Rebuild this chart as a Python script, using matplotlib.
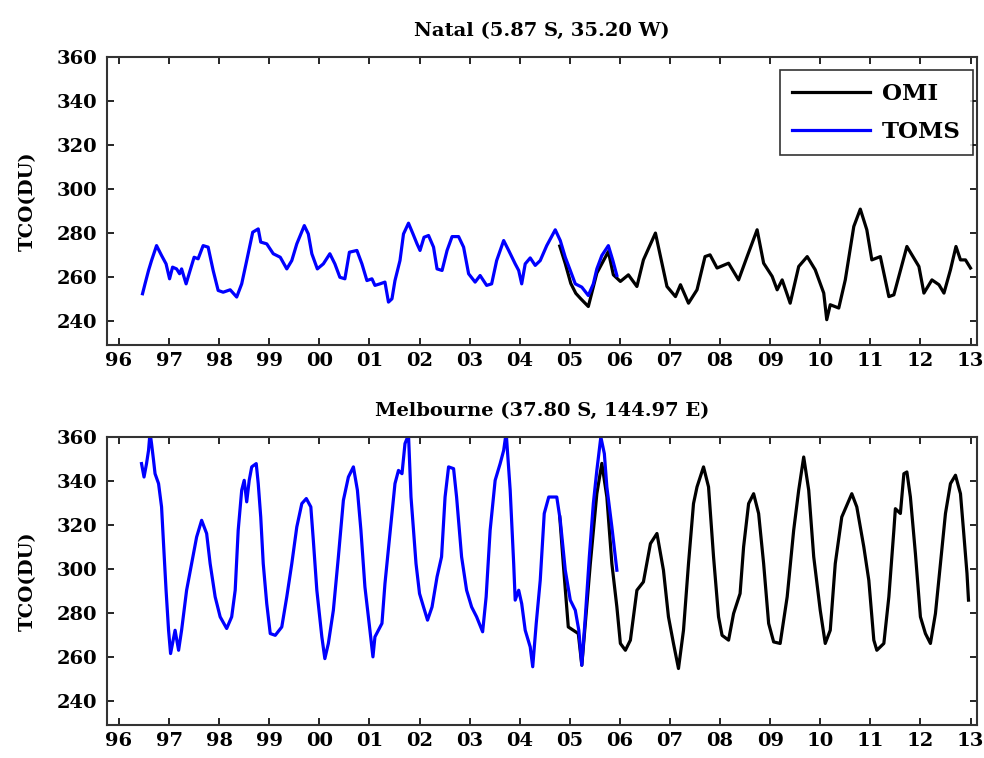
import numpy as np
import matplotlib.pyplot as plt

# ---- Natal: TOMS (blue) ----
natal_toms_t = [1996.47, 1996.52, 1996.59, 1996.65, 1996.75, 1996.85, 1996.94, 1997.01, 1997.07, 1997.15,
                1997.21, 1997.25, 1997.34, 1997.42, 1997.50, 1997.58, 1997.68, 1997.78, 1997.88, 1997.98,
                1998.08, 1998.22, 1998.35, 1998.45, 1998.55, 1998.67, 1998.78, 1998.83, 1998.95, 1999.08,
                1999.22, 1999.35, 1999.45, 1999.55, 1999.70, 1999.78, 1999.85, 1999.96, 2000.08, 2000.21,
                2000.31, 2000.41, 2000.51, 2000.60, 2000.75, 2000.85, 2000.95, 2001.05, 2001.11, 2001.21,
                2001.31, 2001.38, 2001.45, 2001.51, 2001.61, 2001.68, 2001.78, 2001.87, 2001.95, 2002.01,
                2002.09, 2002.18, 2002.28, 2002.35, 2002.45, 2002.55, 2002.65, 2002.78, 2002.88, 2002.98,
                2003.11, 2003.21, 2003.34, 2003.44, 2003.54, 2003.68, 2003.78, 2003.91, 2003.98, 2004.04,
                2004.11, 2004.21, 2004.31, 2004.41, 2004.54, 2004.71, 2004.81, 2004.91, 2005.01, 2005.11,
                2005.24, 2005.37, 2005.47, 2005.54, 2005.64, 2005.77, 2005.86, 2005.94]
natal_toms_v = [252.3, 256.8, 262.9, 267.4, 274.2, 269.7, 265.9, 259.1, 264.4, 263.6,
                261.4, 263.6, 256.8, 262.9, 268.9, 268.2, 274.2, 273.5, 262.9, 253.8,
                253.0, 254.1, 250.8, 256.8, 267.4, 280.3, 281.8, 275.8, 275.0, 270.5,
                268.9, 263.6, 267.4, 275.0, 283.3, 279.5, 270.5, 263.6, 265.9, 270.5,
                265.9, 259.8, 259.1, 271.2, 272.0, 265.9, 258.3, 259.1, 256.1, 256.8,
                257.6, 248.5, 250.0, 258.3, 267.4, 279.5, 284.4, 279.5, 275.0, 272.0,
                278.0, 278.8, 273.5, 263.6, 262.9, 272.0, 278.3, 278.3, 273.5, 261.4,
                257.6, 260.6, 256.1, 256.8, 267.4, 276.5, 272.0, 265.9, 262.9, 256.8,
                265.9, 268.6, 265.2, 267.4, 274.2, 281.4, 276.5, 268.9, 262.9, 256.8,
                255.3, 251.5, 256.8, 263.6, 269.7, 274.2, 267.4, 260.6]

# ---- Natal: OMI (black) ----
natal_omi_t = [2004.80, 2004.91, 2005.02, 2005.12, 2005.22, 2005.37, 2005.54, 2005.77, 2005.87, 2006.01,
               2006.17, 2006.34, 2006.47, 2006.71, 2006.94, 2007.11, 2007.21, 2007.37, 2007.54, 2007.70,
               2007.80, 2007.94, 2008.17, 2008.37, 2008.54, 2008.74, 2008.87, 2009.04, 2009.14, 2009.24,
               2009.40, 2009.57, 2009.74, 2009.90, 2010.07, 2010.13, 2010.20, 2010.37, 2010.50, 2010.67,
               2010.80, 2010.93, 2011.03, 2011.20, 2011.37, 2011.47, 2011.73, 2011.97, 2012.07, 2012.23,
               2012.37, 2012.47, 2012.60, 2012.71, 2012.80, 2012.90, 2013.00]
natal_omi_v = [274.0, 266.0, 257.0, 252.5, 250.0, 246.5, 261.7, 271.5, 260.9, 257.9,
               260.9, 255.6, 267.7, 279.9, 255.6, 251.0, 256.4, 248.0, 254.1, 269.2,
               270.0, 264.0, 266.2, 258.6, 269.2, 281.4, 266.2, 260.2, 254.1, 258.6,
               248.0, 264.7, 269.2, 263.2, 252.6, 240.5, 247.3, 245.8, 258.6, 282.9,
               290.8, 281.4, 267.7, 269.2, 251.0, 251.8, 273.8, 264.7, 252.6, 258.6,
               256.4, 252.6, 263.2, 273.8, 267.7, 267.7, 264.0]

# ---- Melbourne: TOMS (blue) ----
melb_toms_t = [1996.45, 1996.50, 1996.55, 1996.59, 1996.62, 1996.65, 1996.69, 1996.72, 1996.79, 1996.85,
               1996.90, 1996.94, 1996.99, 1997.03, 1997.12, 1997.19, 1997.25, 1997.35, 1997.45, 1997.55,
               1997.65, 1997.75, 1997.82, 1997.92, 1998.02, 1998.15, 1998.25, 1998.32, 1998.38, 1998.45,
               1998.50, 1998.55, 1998.60, 1998.65, 1998.74, 1998.78, 1998.83, 1998.88, 1998.95, 1999.02,
               1999.12, 1999.25, 1999.35, 1999.45, 1999.55, 1999.65, 1999.74, 1999.83, 1999.88, 1999.95,
               2000.05, 2000.11, 2000.18, 2000.28, 2000.38, 2000.48, 2000.58, 2000.68, 2000.76, 2000.83,
               2000.91, 2001.01, 2001.07, 2001.11, 2001.25, 2001.31, 2001.41, 2001.51, 2001.58, 2001.65,
               2001.71, 2001.78, 2001.83, 2001.88, 2001.93, 2002.00, 2002.08, 2002.16, 2002.25, 2002.35,
               2002.44, 2002.51, 2002.58, 2002.68, 2002.74, 2002.84, 2002.94, 2003.04, 2003.14, 2003.26,
               2003.33, 2003.41, 2003.51, 2003.61, 2003.68, 2003.73, 2003.81, 2003.88, 2003.91, 2003.98,
               2004.04, 2004.11, 2004.21, 2004.26, 2004.33, 2004.41, 2004.49, 2004.58, 2004.74, 2004.81,
               2004.91, 2005.01, 2005.11, 2005.18, 2005.24, 2005.31, 2005.39, 2005.47, 2005.54, 2005.62,
               2005.69, 2005.74, 2005.84, 2005.94]
melb_toms_v = [347.9, 341.8, 347.9, 353.9, 362.0, 357.0, 349.4, 343.3, 338.8, 328.2,
               307.0, 290.3, 272.1, 261.5, 272.1, 263.0, 272.1, 290.3, 302.4, 314.5,
               322.1, 316.1, 302.4, 287.3, 278.2, 272.9, 278.2, 290.3, 317.6, 335.8,
               340.3, 330.5, 340.3, 346.4, 347.9, 338.8, 323.6, 302.4, 284.2, 270.6,
               269.8, 273.6, 287.3, 302.4, 319.1, 329.7, 332.0, 328.2, 313.0, 290.3,
               269.1, 259.2, 266.1, 281.2, 305.5, 331.2, 341.8, 346.4, 335.8, 317.6,
               291.8, 272.1, 260.0, 269.1, 275.2, 293.3, 316.1, 338.8, 344.8, 343.3,
               357.0, 361.0, 332.7, 317.6, 302.4, 288.8, 282.7, 276.7, 282.7, 296.4,
               305.5, 332.7, 346.4, 345.6, 332.7, 305.5, 290.3, 282.7, 278.2, 271.4,
               287.3, 317.6, 340.3, 347.9, 353.9, 362.0, 335.8, 302.4, 285.8, 290.3,
               284.2, 272.1, 264.5, 255.5, 275.2, 294.8, 325.2, 332.7, 332.7, 322.1,
               299.4, 285.8, 281.2, 272.1, 256.2, 278.2, 305.5, 329.7, 344.8, 360.0,
               352.4, 337.3, 319.1, 299.4]

# ---- Melbourne: OMI (black) ----
melb_omi_t = [2004.80, 2004.88, 2004.97, 2005.07, 2005.17, 2005.24, 2005.31, 2005.41, 2005.54, 2005.64,
              2005.74, 2005.84, 2005.94, 2006.01, 2006.11, 2006.21, 2006.34, 2006.47, 2006.61, 2006.74,
              2006.87, 2006.97, 2007.07, 2007.17, 2007.27, 2007.37, 2007.47, 2007.54, 2007.67, 2007.77,
              2007.87, 2007.97, 2008.04, 2008.17, 2008.27, 2008.40, 2008.47, 2008.57, 2008.67, 2008.77,
              2008.87, 2008.97, 2009.07, 2009.20, 2009.34, 2009.47, 2009.57, 2009.67, 2009.77, 2009.87,
              2010.00, 2010.10, 2010.20, 2010.30, 2010.43, 2010.63, 2010.73, 2010.87, 2010.97, 2011.07,
              2011.13, 2011.27, 2011.37, 2011.47, 2011.50, 2011.60, 2011.67, 2011.73, 2011.80, 2011.90,
              2012.00, 2012.10, 2012.20, 2012.30, 2012.40, 2012.50, 2012.60, 2012.70, 2012.80, 2012.86,
              2012.93, 2012.96]
melb_omi_v = [323.6, 299.4, 273.6, 272.1, 270.6, 256.2, 275.2, 302.4, 334.2, 348.0,
              332.7, 302.4, 282.7, 266.1, 263.0, 267.6, 290.3, 294.1, 311.5, 316.1,
              299.4, 278.2, 266.1, 254.7, 272.1, 302.4, 329.7, 337.3, 346.4, 337.3,
              305.5, 278.2, 269.8, 267.6, 279.7, 288.8, 310.0, 329.7, 334.2, 325.2,
              302.4, 275.2, 266.8, 266.1, 287.3, 317.6, 335.8, 350.9, 335.8, 305.5,
              281.2, 266.1, 272.1, 302.4, 323.6, 334.2, 328.2, 310.0, 294.8, 267.6,
              263.0, 266.1, 287.3, 317.6, 327.4, 325.2, 343.3, 344.1, 332.7, 307.0,
              278.2, 270.6, 266.1, 279.7, 302.4, 325.2, 338.8, 342.6, 334.2, 317.6,
              297.9, 285.8]

years = list(range(1996, 2014))
year_labels = [f"{y % 100:02d}" for y in years]
titles = ["Natal (5.87 S, 35.20 W)", "Melbourne (37.80 S, 144.97 E)"]

plt.rcParams['font.family'] = ['DejaVu Serif']
plt.rcParams['font.weight'] = 'bold'

fig = plt.figure(figsize=(9.84, 7.58), dpi=100)
ax1 = fig.add_axes([0.1087, 0.5449, 0.8842, 0.3799])
ax2 = fig.add_axes([0.1087, 0.0435, 0.8842, 0.3800])

series = [(ax1, natal_omi_t, natal_omi_v, natal_toms_t, natal_toms_v),
          (ax2, melb_omi_t, melb_omi_v, melb_toms_t, melb_toms_v)]

for i, (ax, ot, ov, tt, tv) in enumerate(series):
    ax.plot(ot, ov, color='black', lw=2.3, label='OMI')
    ax.plot(tt, tv, color='#0000ff', lw=2.3, label='TOMS')
    ax.set_xlim(1995.76, 2013.13)
    ax.set_ylim(229, 360)
    ax.set_yticks(np.arange(240, 361, 20))
    ax.set_xticks(years)
    ax.set_xticklabels(year_labels)
    ax.tick_params(direction='in', top=True, right=True, length=5, width=1.2,
                   labelsize=14)
    ax.tick_params(axis='x', pad=5)
    ax.tick_params(axis='y', pad=7)
    for lab in ax.get_xticklabels() + ax.get_yticklabels():
        lab.set_fontweight('bold')
    for sp in ax.spines.values():
        sp.set_linewidth(1.5)
        sp.set_color('#333333')
    ax.set_ylabel("TCO(DU)", fontsize=14, fontweight='bold', labelpad=14)
    ax.set_title(titles[i], fontsize=14, fontweight='bold', pad=15)

leg = ax1.legend(loc='upper right', fontsize=16.5, frameon=True, fancybox=False,
                 handlelength=3.4, handletextpad=0.5, borderpad=0.55, labelspacing=0.7,
                 borderaxespad=0, bbox_to_anchor=(0.9954, 0.955))
leg.get_frame().set_edgecolor('black')
leg.get_frame().set_linewidth(1.2)
for txt in leg.get_texts():
    txt.set_fontweight('bold')

fig.savefig("out.png", dpi=100)
